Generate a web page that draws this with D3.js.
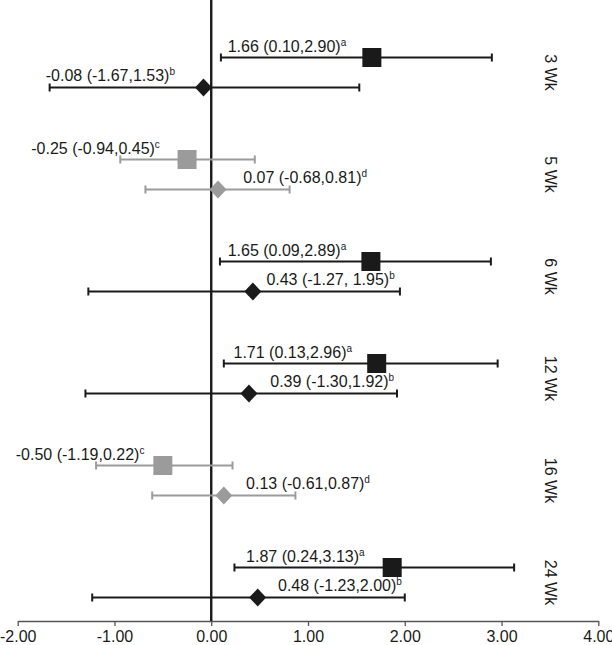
<!DOCTYPE html>
<html>
<head>
<meta charset="utf-8">
<script src="https://cdn.jsdelivr.net/npm/d3@7/dist/d3.min.js"></script>
<style>
  html, body { margin: 0; padding: 0; background: #fff; }
  svg { display: block; font-family: "Liberation Sans", Arial, sans-serif; }
</style>
</head>
<body>
<svg id="chart" width="612" height="645"></svg>
<script>
// ---- data ----
const weeks = ["3 Wk", "5 Wk", "6 Wk", "12 Wk", "16 Wk", "24 Wk"];
// upper marker (square)
const sqEst = [1.66, -0.25, 1.65, 1.71, -0.50, 1.87];
const sqLo  = [0.10, -0.94, 0.09, 0.13, -1.19, 0.24];
const sqHi  = [2.90,  0.45, 2.89, 2.96,  0.22, 3.13];
const sqSup = ["a", "c", "a", "a", "c", "a"];
const sqText = ["1.66 (0.10,2.90)", "-0.25 (-0.94,0.45)", "1.65 (0.09,2.89)", "1.71 (0.13,2.96)", "-0.50 (-1.19,0.22)", "1.87 (0.24,3.13)"];
// lower marker (diamond)
const dmEst = [-0.08, 0.07, 0.43, 0.39, 0.13, 0.48];
const dmLo  = [-1.67, -0.68, -1.27, -1.30, -0.61, -1.23];
const dmHi  = [ 1.53,  0.81,  1.95,  1.92,  0.87,  2.00];
const dmSup = ["b", "d", "b", "b", "d", "b"];
const dmText = ["-0.08 (-1.67,1.53)", "0.07 (-0.68,0.81)", "0.43 (-1.27, 1.95)", "0.39 (-1.30,1.92)", "0.13 (-0.61,0.87)", "0.48 (-1.23,2.00)"];
// series colour group per week (dark / grey)
const group = ["dark", "grey", "dark", "dark", "grey", "dark"];
const xTicks = [-2, -1, 0, 1, 2, 3, 4];

// ---- layout (label anchors in data units, placed by hand in the original) ----
const sqLabelX = [0.17, -1.86, 0.17, 0.23, -2.02, 0.36];
const dmLabelX = [-1.71, 0.33, 0.57, 0.61, 0.36, 0.69];

const svg = d3.select("#chart");
const colors = { dark: "#1a1a1a", grey: "#9b9b9b" };
const axisY = 621;
const fs = 16;

const x = d3.scaleLinear().domain([-2, 4]).range([17.7, 598.3]);
const y = d3.scalePoint().domain(weeks).range([72.5, 582.5]);
const off = 15;

const fmt = d3.formatLocale({decimal: ".", thousands: ",", grouping: [3], currency: ["", ""], minus: "-"}).format(".2f");

// x axis
const axisG = svg.append("g").attr("transform", `translate(0,${axisY})`)
  .call(d3.axisBottom(x).tickValues(xTicks).tickFormat(fmt).tickSize(5).tickSizeOuter(0));
axisG.select(".domain").attr("stroke", "#555").attr("stroke-width", 1.3);
axisG.selectAll(".tick line").attr("stroke", "#555").attr("stroke-width", 1.3);
axisG.selectAll(".tick text").attr("font-size", fs).attr("fill", "#1a1a1a")
  .attr("font-family", "Liberation Sans, Arial, sans-serif").attr("y", 10).attr("dy", "0.71em");

// zero line
svg.append("line").attr("x1", x(0)).attr("x2", x(0)).attr("y1", 0).attr("y2", axisY)
  .attr("stroke", "#1a1a1a").attr("stroke-width", 2.4);

const rows = weeks.map((w, i) => ({w, i, c: colors[group[i]]}));

function errorBar(g, yy, lo, hi, c) {
  g.append("line").attr("x1", x(lo)).attr("x2", x(hi)).attr("y1", yy).attr("y2", yy)
    .attr("stroke", c).attr("stroke-width", 2);
  [lo, hi].forEach(v => g.append("line").attr("x1", x(v)).attr("x2", x(v))
    .attr("y1", yy - 4).attr("y2", yy + 4).attr("stroke", c).attr("stroke-width", 2));
}

function label(g, xx, yy, txt, sup) {
  const t = g.append("text").attr("x", xx).attr("y", yy).attr("font-size", fs).attr("fill", "#1a1a1a");
  t.append("tspan").text(txt);
  t.append("tspan").attr("font-size", 10).attr("dy", -6).text(sup);
}

rows.forEach(r => {
  const g = svg.append("g");
  const ys = y(r.w) - off, yd = y(r.w) + off;
  errorBar(g, ys, sqLo[r.i], sqHi[r.i], r.c);
  g.append("rect").attr("x", x(sqEst[r.i]) - 9.5).attr("y", ys - 9.5)
    .attr("width", 19).attr("height", 19).attr("fill", r.c);
  label(g, x(sqLabelX[r.i]), ys - 6, sqText[r.i], sqSup[r.i]);

  errorBar(g, yd, dmLo[r.i], dmHi[r.i], r.c);
  const cx = x(dmEst[r.i]);
  g.append("path").attr("d", `M${cx},${yd - 9}L${cx + 8.5},${yd}L${cx},${yd + 9}L${cx - 8.5},${yd}Z`).attr("fill", r.c);
  label(g, x(dmLabelX[r.i]), yd - 6.5, dmText[r.i], dmSup[r.i]);

  svg.append("text").attr("transform", `translate(550,${y(r.w)}) rotate(90)`)
    .attr("text-anchor", "middle").attr("dominant-baseline", "central")
    .attr("font-size", fs).attr("fill", "#1a1a1a").text(r.w);
});
</script>
</body>
</html>
